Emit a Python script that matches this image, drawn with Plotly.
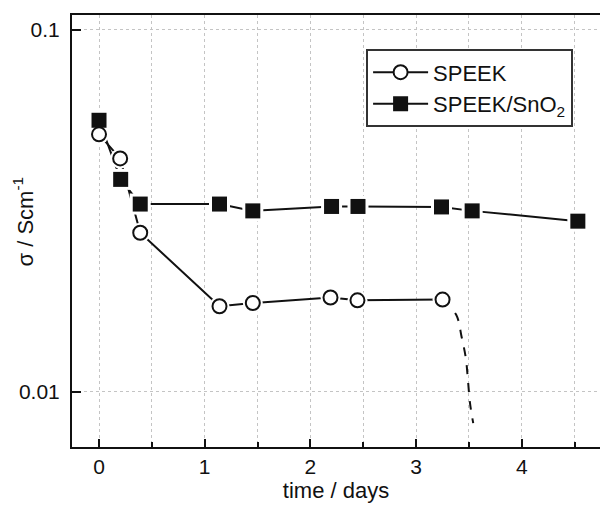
import plotly.graph_objects as go

# ---- data ----
speek_t = [0.0, 0.20, 0.39, 1.14, 1.455, 2.19, 2.445, 3.25]
speek_s = [0.0514, 0.0441, 0.0275, 0.01724, 0.0176, 0.01822, 0.0179, 0.01798]

sno2_t = [0.0, 0.205, 0.39, 1.14, 1.455, 2.20, 2.45, 3.24, 3.53, 4.53]
sno2_s = [0.0562, 0.0386, 0.0330, 0.0330, 0.0316, 0.0325, 0.0325, 0.0324, 0.0316, 0.0296]

# dashed extrapolation of SPEEK after the last point
drop_t = [3.25, 3.38, 3.43, 3.47, 3.49, 3.51, 3.54]
drop_s = [0.01798, 0.0163, 0.0142, 0.0124, 0.0108, 0.0093, 0.0082]

x_ticks = [0, 1, 2, 3, 4]
y_ticks = [0.01, 0.1]
y_tick_text = ["0.01", "0.1"]
y_minor_ticks = [0.008, 0.009, 0.02, 0.03, 0.04, 0.05, 0.06, 0.07, 0.08, 0.09]

FONT = "Liberation Sans"
BLACK = "#111111"
GRID = "#c4c4c4"
Y_RANGE = [-2.152, -0.9597]

fig = go.Figure()

# connecting lines
fig.add_trace(go.Scatter(x=speek_t, y=speek_s, mode="lines",
                         line=dict(color=BLACK, width=2), showlegend=False, hoverinfo="skip"))
fig.add_trace(go.Scatter(x=sno2_t, y=sno2_s, mode="lines",
                         line=dict(color=BLACK, width=2), showlegend=False, hoverinfo="skip"))
fig.add_trace(go.Scatter(x=drop_t, y=drop_s, mode="lines",
                         line=dict(color=BLACK, width=2, dash="dash", shape="spline"),
                         showlegend=False, hoverinfo="skip"))

# white halos to create the gap between lines and symbols
fig.add_trace(go.Scatter(x=speek_t, y=speek_s, mode="markers",
                         marker=dict(symbol="circle", size=20, color="white"),
                         showlegend=False, hoverinfo="skip"))
fig.add_trace(go.Scatter(x=sno2_t, y=sno2_s, mode="markers",
                         marker=dict(symbol="square", size=21, color="white"),
                         showlegend=False, hoverinfo="skip"))

# symbols
fig.add_trace(go.Scatter(x=speek_t, y=speek_s, mode="markers",
                         marker=dict(symbol="circle", size=14, color="white",
                                     line=dict(color=BLACK, width=2)),
                         showlegend=False))
fig.add_trace(go.Scatter(x=sno2_t, y=sno2_s, mode="markers",
                         marker=dict(symbol="square", size=15, color=BLACK,
                                     line=dict(color=BLACK, width=0)),
                         showlegend=False))

# legend entries
fig.add_trace(go.Scatter(x=[None], y=[None], mode="lines+markers", name="SPEEK",
                         line=dict(color=BLACK, width=2),
                         marker=dict(symbol="circle", size=14, color="white",
                                     line=dict(color=BLACK, width=2))))
fig.add_trace(go.Scatter(x=[None], y=[None], mode="lines+markers",
                         name="SPEEK/SnO<sub>2</sub>",
                         line=dict(color=BLACK, width=2),
                         marker=dict(symbol="square", size=15, color=BLACK)))

fig.update_layout(
    width=600, height=506,
    margin=dict(l=72, r=0, t=15, b=59),
    paper_bgcolor="white", plot_bgcolor="white",
    font=dict(family=FONT, size=21, color=BLACK),
    showlegend=True,
    legend=dict(x=0.557, y=0.9205, xanchor="left", yanchor="top",
                bordercolor="#333333", borderwidth=2, bgcolor="white",
                font=dict(size=22, family=FONT, color=BLACK),
                tracegroupgap=0, itemwidth=55),
    annotations=[dict(text="σ / Scm<sup>-1</sup>", textangle=-90,
                      xref="paper", yref="paper", x=-0.092, y=0.523,
                      xanchor="center", yanchor="middle", showarrow=False,
                      font=dict(size=22, family=FONT, color=BLACK))],
    # overlay axis only used to draw the minor log ticks
    yaxis2=dict(type="log", range=Y_RANGE, overlaying="y", side="left", anchor="x",
                tickmode="array", tickvals=y_minor_ticks, showticklabels=False,
                ticks="inside", ticklen=5, tickwidth=1.5, tickcolor=BLACK,
                showgrid=False, zeroline=False, showline=False),
)

fig.update_xaxes(
    range=[-0.2555, 4.7395],
    tickvals=x_ticks,
    ticks="inside", ticklen=8, tickwidth=2, tickcolor=BLACK,
    showline=True, linewidth=2, linecolor=BLACK, mirror=True,
    showgrid=True, gridcolor=GRID, gridwidth=1, griddash="dot",
    minor=dict(dtick=0.5, ticks="inside", ticklen=5, tickwidth=1.5, tickcolor=BLACK,
               showgrid=True, gridcolor=GRID, gridwidth=1, griddash="dot"),
    zeroline=False,
    tickfont=dict(size=21, family=FONT),
    title=dict(text="time / days", font=dict(size=22, family=FONT), standoff=4),
)

fig.update_yaxes(
    selector=dict(overlaying=None),
    type="log",
    range=Y_RANGE,
    tickvals=y_ticks, ticktext=y_tick_text,
    ticks="inside", ticklen=9, tickwidth=2, tickcolor=BLACK,
    showline=True, linewidth=2, linecolor=BLACK, mirror=False,
    showgrid=True, gridcolor=GRID, gridwidth=1, griddash="dot",
    zeroline=False,
    tickfont=dict(size=21, family=FONT),
    ticklabelstandoff=6,
)

fig.write_html("out.html")
